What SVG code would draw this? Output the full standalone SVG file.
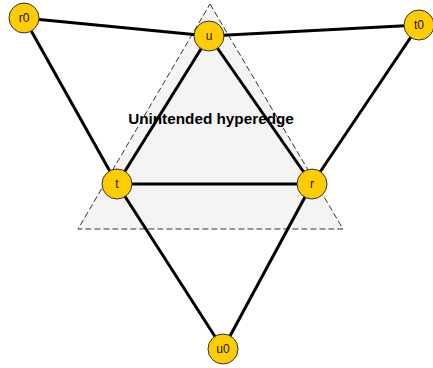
<svg xmlns="http://www.w3.org/2000/svg" width="433" height="368" viewBox="0 0 433 368">
<style>
.node circle{fill:#ffcc00;stroke:#333;stroke-width:1}
.node text{font-family:"Liberation Sans",Arial,sans-serif;font-size:12px;fill:#111;text-anchor:middle;dominant-baseline:central}
.edge{stroke:#000;stroke-width:3;fill:none}
.hyper{fill:#f4f4f4;stroke:#333;stroke-width:1;stroke-dasharray:6 3}
.label{font-family:"Liberation Sans",Arial,sans-serif;font-size:15.3px;font-weight:bold;fill:#000;text-anchor:middle}
</style>
<rect width="433" height="368" fill="#fff"/>
<g id="hyperedge">
<polygon class="hyper" points="210,4 343,229 78,229"/>
</g>
<g id="connectors">
<line class="edge" x1="24" y1="18" x2="209" y2="36"/>
<line class="edge" x1="209" y1="36" x2="419" y2="25"/>
<line class="edge" x1="24" y1="18" x2="117" y2="184"/>
<line class="edge" x1="209" y1="36" x2="117" y2="184"/>
<line class="edge" x1="209" y1="36" x2="312" y2="184"/>
<line class="edge" x1="117" y1="184" x2="312" y2="184"/>
<line class="edge" x1="117" y1="184" x2="223" y2="349"/>
<line class="edge" x1="312" y1="184" x2="223" y2="349"/>
<line class="edge" x1="419" y1="25" x2="312" y2="184"/>
</g>
<g id="hyperedge-label">
<text class="label" x="211" y="123.5">Unintended hyperedge</text>
</g>
<g id="node-r0" class="node"><circle cx="24" cy="18" r="15"/><text x="24" y="18">r0</text></g>
<g id="node-u" class="node"><circle cx="209" cy="36" r="15"/><text x="209" y="36">u</text></g>
<g id="node-t0" class="node"><circle cx="419" cy="25" r="15"/><text x="419" y="25">t0</text></g>
<g id="node-t" class="node"><circle cx="117" cy="184" r="15"/><text x="117" y="184">t</text></g>
<g id="node-r" class="node"><circle cx="312" cy="184" r="15"/><text x="312" y="184">r</text></g>
<g id="node-u0" class="node"><circle cx="223" cy="349" r="15"/><text x="223" y="349">u0</text></g>
</svg>
